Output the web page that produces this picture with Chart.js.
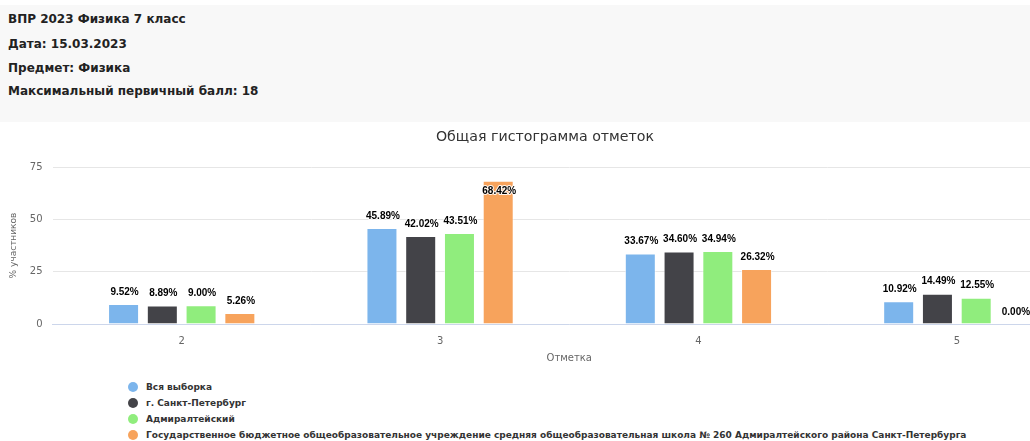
<!DOCTYPE html>
<html><head><meta charset="utf-8">
<script src="https://cdn.jsdelivr.net/npm/chart.js@4/dist/chart.umd.min.js"></script>
<style>
html,body{margin:0;padding:0;background:#fff;overflow:hidden;width:1030px;height:441px;}
#hdr{position:absolute;left:0;top:5px;width:1030px;height:117px;background:#f8f8f8;}
#hdr div{position:absolute;left:8px;font:bold 12px "DejaVu Sans",sans-serif;color:#222;}
#wrap{position:absolute;left:0;top:122px;width:1090px;height:242px;}
#legend{position:absolute;left:128px;top:379px;font:bold 9px "DejaVu Sans",sans-serif;color:#333;}
#legend .it{height:16px;line-height:16px;white-space:nowrap;position:relative;padding-left:18px;}
#legend .dot{position:absolute;left:0;top:3px;width:10px;height:10px;border-radius:50%;}
</style></head><body>
<div id="hdr">
<div style="top:7px">ВПР 2023 Физика 7 класс</div>
<div style="top:32px">Дата: 15.03.2023</div>
<div style="top:56px">Предмет: Физика</div>
<div style="top:79px">Максимальный первичный балл: 18</div>
</div>
<div id="wrap"><canvas id="c" width="1090" height="242"></canvas></div>
<div id="legend"></div>
<script>
const categories = ["2","3","4","5"];
const seriesNames = ["Вся выборка","г. Санкт-Петербург","Адмиралтейский","Государственное бюджетное общеобразовательное учреждение средняя общеобразовательная школа № 260 Адмиралтейского района Санкт-Петербурга"];
const allSample = [9.52, 45.89, 33.67, 10.92];
const spb = [8.89, 42.02, 34.60, 14.49];
const admiralteysky = [9.00, 43.51, 34.94, 12.55];
const school260 = [5.26, 68.42, 26.32, 0.00];
const yTicks = [0, 25, 50, 75];
const colors = ["#7cb5ec","#434348","#90ed7d","#f7a35c"];
const values = [allSample, spb, admiralteysky, school260];

const labelPlugin = {
  id:'vals',
  afterDatasetsDraw(chart){
    const ctx = chart.ctx; const area = chart.chartArea;
    ctx.save();
    ctx.font = 'bold 10px "Liberation Sans", sans-serif';
    ctx.textAlign='center'; ctx.textBaseline='middle';
    chart.data.datasets.forEach((ds,i)=>{
      chart.getDatasetMeta(i).data.forEach((bar,j)=>{
        const t = ds.data[j].toFixed(2)+'%';
        let y = bar.y - 12;
        if (y - 6 < area.top) y = bar.y + 10;
        ctx.lineJoin='round';
        ctx.strokeStyle='rgba(255,255,255,0.9)'; ctx.lineWidth=2;
        ctx.strokeText(t, bar.x+1, y);
        ctx.fillStyle='#000';
        ctx.fillText(t, bar.x+1, y);
      });
    });
    ctx.restore();
  }
};

new Chart(document.getElementById('c'), {
  type:'bar',
  data:{labels:categories, datasets: values.map((v,i)=>({label:seriesNames[i], data:v, backgroundColor:colors[i], borderColor:'rgba(255,255,255,0.6)', borderWidth:1, categoryPercentage:0.6, barPercentage:0.8}))},
  options:{
    responsive:false, animation:false,
    layout:{padding:{left:4,right:4,top:0,bottom:0}},
    plugins:{
      legend:{display:false}, tooltip:{enabled:false},
      title:{display:true, text:'Общая гистограмма отметок', color:'#333', font:{family:'"DejaVu Sans", sans-serif', size:14.2, weight:'normal'}, padding:{top:7,bottom:21}}
    },
    scales:{
      x:{grid:{display:false}, border:{color:'#ccd6eb'}, ticks:{color:'#666', font:{family:'"DejaVu Sans", sans-serif', size:10}, padding:3},
         title:{display:true, text:'Отметка', color:'#666', font:{family:'"DejaVu Sans", sans-serif', size:10}, padding:{top:2,bottom:0}}},
      y:{min:0, max:75, afterBuildTicks(ax){ax.ticks = yTicks.map(v=>({value:v}));},
         grid:{color:'#e6e6e6', drawTicks:false}, border:{display:false},
         ticks:{color:'#666', font:{family:'"DejaVu Sans", sans-serif', size:10}, padding:10},
         title:{display:true, text:'% участников', color:'#666', font:{family:'"DejaVu Sans", sans-serif', size:9}, padding:{top:4,bottom:1}}}
    }
  },
  plugins:[labelPlugin]
});
const lg = document.getElementById('legend');
seriesNames.forEach((n,i)=>{
  const d=document.createElement('div'); d.className='it';
  d.innerHTML='<span class="dot" style="background:'+colors[i]+'"></span>'; d.appendChild(document.createTextNode(n));
  lg.appendChild(d);
});
</script>
</body></html>
